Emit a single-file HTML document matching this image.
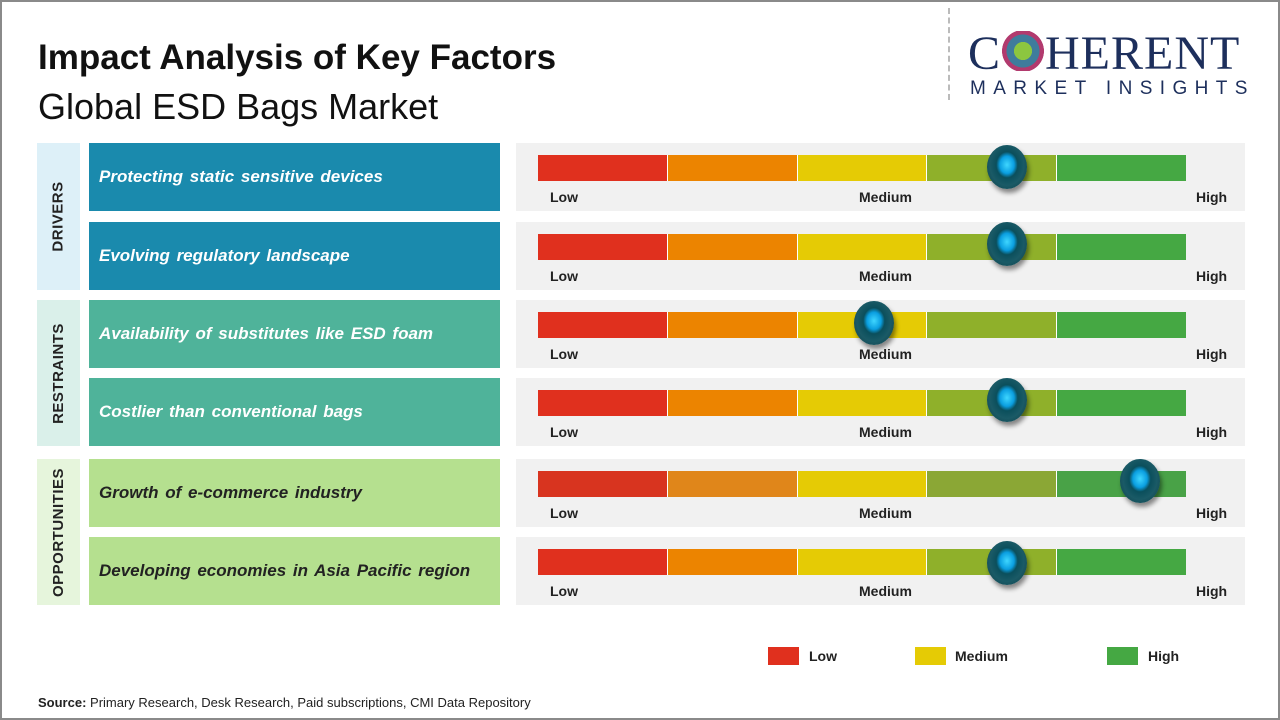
<!DOCTYPE html>
<html><head><meta charset="utf-8"><style>
*{margin:0;padding:0;box-sizing:border-box}
body{width:1280px;height:720px;background:#fff;font-family:"Liberation Sans",sans-serif;position:relative;overflow:hidden}
.a{position:absolute}
.frame{left:0;top:0;width:1280px;height:720px;border:2px solid #8a8a8a}
.t1{left:38px;top:38px;font-size:35px;font-weight:bold;color:#111}
.t2{left:38px;top:86px;font-size:36px;color:#111}
.cat{width:43px;left:37px;display:flex;align-items:center;justify-content:center}
.cat span{transform:rotate(-90deg);white-space:nowrap;font-weight:bold;font-size:15px;color:#222;letter-spacing:.5px}
.lab{left:89px;width:411px;height:68px;display:flex;align-items:center;padding-left:10px;font-style:italic;font-weight:bold;font-size:17px;color:#fff;word-spacing:2px}
.bg{left:516px;width:729px;height:68px;background:#f1f1f1}
.bar{position:absolute;left:22px;top:12px;height:26px;width:648px;display:flex}
.bar div{flex:1;border-right:1px solid #fff}
.bar div:last-child{border:none}
.lo,.me,.hi{position:absolute;top:46px;font-size:14px;font-weight:bold;color:#222}
.lo{left:34px}.me{left:343px}.hi{left:680px}
.knob{position:absolute;width:40px;height:44px;border-radius:50%;background:radial-gradient(ellipse at 50% 45%,#3fd6ff 0,#0a9ee0 25%,#0b4f5c 38%,#1a5a66 60%,#0d3b44 100%);box-shadow:2px 4px 5px rgba(0,0,0,.45)}
.leg{top:647px;width:31px;height:18px}
.lt{top:648px;font-size:14px;font-weight:bold;color:#222}
</style></head><body>
<div class="a frame"></div>
<div class="a t1">Impact Analysis of Key Factors</div>
<div class="a t2">Global ESD Bags Market</div>
<div class="a" style="left:948px;top:8px;height:92px;border-left:2px dashed #bbb"></div>
<div class="a" style="left:968px;top:28px;font-family:'Liberation Serif',serif;font-size:48px;color:#1d2f5c;letter-spacing:1px;line-height:52px">C<span style="display:inline-block;width:44px;height:40px;vertical-align:-2px;background:radial-gradient(circle,#8cc63f 0 30%,#3f7c9c 31% 55%,#b23a6e 56% 70%,transparent 71%)"></span>HERENT</div>
<div class="a" style="left:970px;top:78px;font-size:19px;color:#1d2f5c;letter-spacing:7.4px">MARKET INSIGHTS</div>

<div class="a cat" style="top:143px;height:147px;background:#ddf0f8"><span>DRIVERS</span></div>
<div class="a cat" style="top:300px;height:146px;background:#daf0ea"><span>RESTRAINTS</span></div>
<div class="a cat" style="top:459px;height:146px;background:#e6f5dc"><span>OPPORTUNITIES</span></div>

<div class="a lab" style="top:143px;background:#1a8aad">Protecting static sensitive devices</div>
<div class="a lab" style="top:222px;background:#1a8aad">Evolving regulatory landscape</div>
<div class="a lab" style="top:300px;background:#4fb39a">Availability of substitutes like ESD foam</div>
<div class="a lab" style="top:378px;background:#4fb39a">Costlier than conventional bags</div>
<div class="a lab" style="top:459px;background:#b5e08f;color:#222">Growth of e-commerce industry</div>
<div class="a lab" style="top:537px;background:#b5e08f;color:#222">Developing economies in Asia Pacific region</div>

<div class="a bg" style="top:143px"><div class="bar"><div style="background:#e0301e"></div><div style="background:#ec8400"></div><div style="background:#e5cb05"></div><div style="background:#8fb02a"></div><div style="background:#45a843"></div></div><span class="lo">Low</span><span class="me">Medium</span><span class="hi">High</span><div class="knob" style="left:471px;top:2px"></div></div>
<div class="a bg" style="top:222px"><div class="bar"><div style="background:#e0301e"></div><div style="background:#ec8400"></div><div style="background:#e5cb05"></div><div style="background:#8fb02a"></div><div style="background:#45a843"></div></div><span class="lo">Low</span><span class="me">Medium</span><span class="hi">High</span><div class="knob" style="left:471px;top:0px"></div></div>
<div class="a bg" style="top:300px"><div class="bar"><div style="background:#e0301e"></div><div style="background:#ec8400"></div><div style="background:#e5cb05"></div><div style="background:#8fb02a"></div><div style="background:#45a843"></div></div><span class="lo">Low</span><span class="me">Medium</span><span class="hi">High</span><div class="knob" style="left:338px;top:1px"></div></div>
<div class="a bg" style="top:378px"><div class="bar"><div style="background:#e0301e"></div><div style="background:#ec8400"></div><div style="background:#e5cb05"></div><div style="background:#8fb02a"></div><div style="background:#45a843"></div></div><span class="lo">Low</span><span class="me">Medium</span><span class="hi">High</span><div class="knob" style="left:471px;top:0px"></div></div>
<div class="a bg" style="top:459px"><div class="bar"><div style="background:#d8341f"></div><div style="background:#e0861a"></div><div style="background:#e5cb05"></div><div style="background:#8ba735"></div><div style="background:#49a247"></div></div><span class="lo">Low</span><span class="me">Medium</span><span class="hi">High</span><div class="knob" style="left:604px;top:0px"></div></div>
<div class="a bg" style="top:537px"><div class="bar"><div style="background:#e0301e"></div><div style="background:#ec8400"></div><div style="background:#e5cb05"></div><div style="background:#8fb02a"></div><div style="background:#45a843"></div></div><span class="lo">Low</span><span class="me">Medium</span><span class="hi">High</span><div class="knob" style="left:471px;top:4px"></div></div>

<div class="a leg" style="left:768px;background:#e0301e"></div><div class="a lt" style="left:809px">Low</div>
<div class="a leg" style="left:915px;background:#e5cb05"></div><div class="a lt" style="left:955px">Medium</div>
<div class="a leg" style="left:1107px;background:#45a843"></div><div class="a lt" style="left:1148px">High</div>

<div class="a" style="left:38px;top:695px;font-size:13px;color:#222"><b>Source:</b> Primary Research, Desk Research, Paid subscriptions, CMI Data Repository</div>
</body></html>
